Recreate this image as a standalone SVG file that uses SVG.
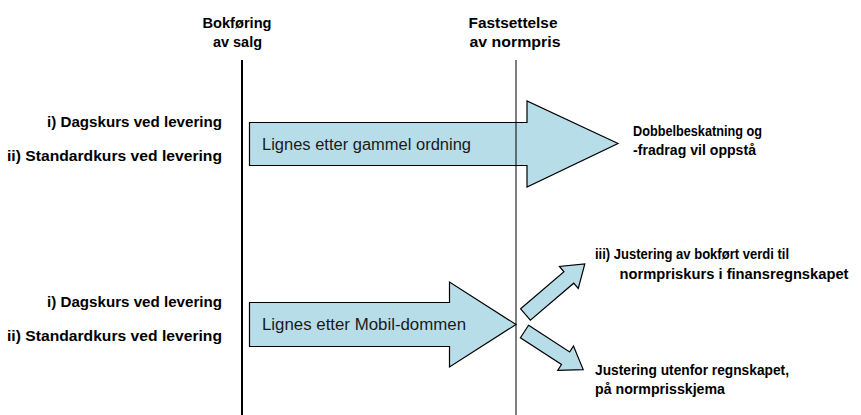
<svg xmlns="http://www.w3.org/2000/svg" width="861" height="415" viewBox="0 0 861 415">
  <style>
    .lbl { font-family: "Liberation Sans", Arial, sans-serif; font-size: 15px; font-weight: bold; fill: #000; }
    .reg { font-family: "Liberation Sans", Arial, sans-serif; font-size: 16px; fill: #1a1a1a; }
    .blk { fill: #B7DEE8; stroke: #000; stroke-width: 1.2; stroke-linejoin: miter; }
    .mid { text-anchor: middle; }
    .end { text-anchor: end; }
  </style>
  <rect width="861" height="415" fill="#fff"/>

  <!-- timeline headings -->
  <g id="heading-bokforing">
    <text class="lbl mid" x="237" y="28" textLength="69" lengthAdjust="spacingAndGlyphs">Bokføring</text>
    <text class="lbl mid" x="237.5" y="47" textLength="49" lengthAdjust="spacingAndGlyphs">av salg</text>
  </g>
  <g id="heading-fastsettelse">
    <text class="lbl mid" x="513" y="28" textLength="89" lengthAdjust="spacingAndGlyphs">Fastsettelse</text>
    <text class="lbl mid" x="515" y="47" textLength="91" lengthAdjust="spacingAndGlyphs">av normpris</text>
  </g>

  <!-- exchange-rate options, upper case -->
  <g id="options-upper">
    <text class="lbl end" x="222" y="127" textLength="175" lengthAdjust="spacingAndGlyphs">i) Dagskurs ved levering</text>
    <text class="lbl end" x="222" y="161" textLength="215" lengthAdjust="spacingAndGlyphs">ii) Standardkurs ved levering</text>
  </g>

  <!-- exchange-rate options, lower case -->
  <g id="options-lower">
    <text class="lbl end" x="222" y="307" textLength="175" lengthAdjust="spacingAndGlyphs">i) Dagskurs ved levering</text>
    <text class="lbl end" x="222" y="341" textLength="215" lengthAdjust="spacingAndGlyphs">ii) Standardkurs ved levering</text>
  </g>

  <!-- block arrow: old rules -->
  <g id="arrow-gammel">
    <polygon class="blk" points="249.5,122.5 527,122.5 527,101 618,143.5 527,187 527,165.5 249.5,165.5"/>
    <text class="reg" x="262" y="149.5" textLength="209" lengthAdjust="spacingAndGlyphs">Lignes etter gammel ordning</text>
  </g>

  <!-- block arrow: Mobil ruling -->
  <g id="arrow-mobil">
    <polygon class="blk" points="249.5,302.5 449.5,302.5 449.5,282 516,324.5 449.5,367 449.5,346.5 249.5,346.5"/>
    <text class="reg" x="262" y="330" textLength="204" lengthAdjust="spacingAndGlyphs">Lignes etter Mobil-dommen</text>
  </g>

  <!-- outcomes -->
  <g id="outcome-dobbel">
    <text class="lbl" x="633" y="136" textLength="129" lengthAdjust="spacingAndGlyphs">Dobbelbeskatning og</text>
    <text class="lbl" x="633" y="155" textLength="123" lengthAdjust="spacingAndGlyphs">-fradrag vil oppstå</text>
  </g>
  <g id="outcome-bokfort">
    <text class="lbl" x="595" y="258.5" textLength="194" lengthAdjust="spacingAndGlyphs">iii) Justering av bokført verdi til</text>
    <text class="lbl" x="619.5" y="278.5" textLength="229" lengthAdjust="spacingAndGlyphs">normpriskurs i finansregnskapet</text>
  </g>
  <g id="outcome-utenfor">
    <text class="lbl" x="595" y="375" textLength="194" lengthAdjust="spacingAndGlyphs">Justering utenfor regnskapet,</text>
    <text class="lbl" x="595" y="394" textLength="130" lengthAdjust="spacingAndGlyphs">på normprisskjema</text>
  </g>

  <!-- branching arrows and timeline lines -->
  <g id="connectors">
    <polygon class="blk" transform="translate(525.5,314.5) rotate(-40.5)" points="0,-7.5 57,-7.5 57,-14.5 78,0 57,14.5 57,7.5 0,7.5"/>
    <polygon class="blk" transform="translate(524.5,331.5) rotate(33)" points="0,-7.5 49,-7.5 49,-14.5 70,0 49,14.5 49,7.5 0,7.5"/>
    <line x1="242" y1="60" x2="242" y2="415" stroke="#000" stroke-width="2"/>
    <line x1="516" y1="60" x2="516" y2="415" stroke="#000" stroke-width="1"/>
  </g>
</svg>
